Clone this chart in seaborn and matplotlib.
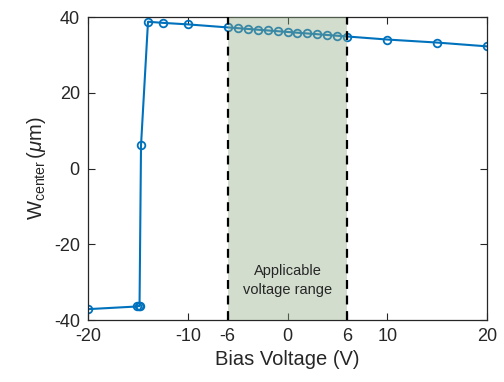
import matplotlib
matplotlib.use("Agg")
import matplotlib.pyplot as plt
import seaborn as sns
import pandas as pd

bias_voltage = [-20, -15.1, -14.95, -14.85, -14.7, -14.0, -12.5, -10,
                -6, -5, -4, -3, -2, -1, 0, 1, 2, 3, 4, 5, 6,
                10, 15, 20]
w_center = [-37.1, -36.4, -36.3, -36.3, 6.2, 38.8, 38.5, 38.1,
            37.3, 37.1, 36.9, 36.7, 36.5, 36.3, 36.1, 35.9, 35.7, 35.5, 35.3, 35.1, 34.9,
            34.1, 33.3, 32.3]
x_ticks = [-20, -10, -6, 0, 6, 10, 20]
y_ticks = [-40, -20, 0, 20, 40]
range_lo, range_hi = -6, 6

sns.set_style("white")
plt.rcParams['font.family'] = ['Liberation Sans', 'DejaVu Sans']
plt.rcParams['mathtext.fontset'] = 'custom'
plt.rcParams['mathtext.rm'] = 'Liberation Sans'
plt.rcParams['mathtext.it'] = 'Liberation Sans:italic'
plt.rcParams['axes.unicode_minus'] = False

txt = '#262626'
df = pd.DataFrame({'V': bias_voltage, 'W': w_center})

fig = plt.figure(figsize=(5.04, 3.82), dpi=100)
ax = fig.add_axes([0.175, 0.162, 0.791, 0.793])

sns.lineplot(data=df, x='V', y='W', sort=False, estimator=None, ax=ax,
             color='#0072BD', lw=1.5, marker='o', markersize=5.5,
             markerfacecolor='none', markeredgecolor='#0072BD', markeredgewidth=1.3)

ax.axvspan(range_lo, range_hi, color=(0.56, 0.67, 0.51), alpha=0.4, lw=0, zorder=3)
for xv in (range_lo, range_hi):
    ax.axvline(xv, color='black', ls=(0, (4, 3)), lw=1.6, zorder=4)

ax.text(0, -29.5, 'Applicable\nvoltage range', ha='center', va='center',
        fontsize=10.5, color=txt, zorder=5, linespacing=1.5)

ax.set_xlim(-20, 20)
ax.set_ylim(-40, 40)
ax.set_xticks(x_ticks)
ax.set_yticks(y_ticks)
ax.tick_params(direction='in', length=5, width=0.8, colors=txt, labelsize=13,
               top=True, right=True, bottom=True, left=True, pad=6)
for s in ax.spines.values():
    s.set_color(txt)
    s.set_linewidth(0.9)
ax.set_xlabel('Bias Voltage (V)', fontsize=14.5, color=txt, labelpad=3)
ax.set_ylabel(r'W$_{\mathrm{center}}\,$($\mu$m)', fontsize=14.5, color=txt, labelpad=4)

fig.savefig('out.png', dpi=100)
